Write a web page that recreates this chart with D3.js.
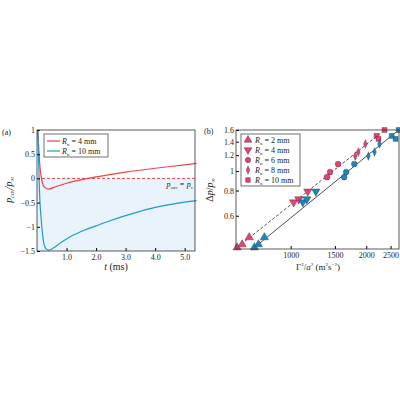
<!DOCTYPE html><html><head><script src="https://cdn.jsdelivr.net/npm/d3@7"></script>
<style>body{margin:0;background:#fff}text{font-family:"Liberation Serif",serif;fill:#222}</style></head><body>
<svg id="s" width="400" height="400"></svg>
<script>
const tRed=[0.03,0.08,0.15,0.25,0.4,0.6,1,1.5,2,3,4,5,5.4];
const pRed=[1,0.4,0.0,-0.18,-0.22,-0.18,-0.1,-0.03,0.03,0.13,0.21,0.28,0.31];
const tBlue=[0.03,0.08,0.15,0.22,0.3,0.4,0.55,0.8,1.2,1.6,2,2.5,3,3.5,4,4.5,5,5.4];
const pBlue=[1,-0.2,-0.9,-1.3,-1.45,-1.48,-1.44,-1.33,-1.18,-1.07,-0.98,-0.87,-0.77,-0.68,-0.6,-0.54,-0.49,-0.46];
const xTicksA=[1,2,3,4,5], yTicksA=[-1.5,-1,-0.5,0,0.5,1];
const pinkX=[612,641,684,1028,1077,1170,1395,1435,1545,1809,1859,1984,2197,2237,2365];
const blueX=[717,744,786,1118,1160,1260,1633,1664,1792,2040,2157,2258,2526,2617,2693];
const yVals=[0.417,0.432,0.468,0.70,0.725,0.792,0.933,0.989,1.084,1.188,1.244,1.364,1.496,1.445,1.6];
const shapes=["tu","tu","tu","td","td","td","c","c","c","d","d","d","s","s","s"];
const legB=["2","4","6","8","10"], legShapes=["tu","td","c","d","s"];
const xTicksB=[1000,1500,2000,2500], yTicksB=[0.6,0.8,1,1.2,1.4,1.6];
const svg=d3.select("#s");
const RED="#ee4444",BLUE="#1f9ac9",PINK="#ea3f73",BL2="#1a86bf";
// panel a
const xa=d3.scaleLinear([0,5.35],[37,195]), ya=d3.scaleLinear([-1.5,1],[251,130]);
const ga=svg.append("g");
ga.append("rect").attr("x",37).attr("y",ya(0)).attr("width",158).attr("height",251-ya(0)).attr("fill","#e8f3fc");
ga.append("line").attr("x1",37).attr("x2",195).attr("y1",ya(0)).attr("y2",ya(0)).attr("stroke",RED).attr("stroke-dasharray","3,2");
const la=d3.line().x(d=>xa(d[0])).y(d=>ya(d[1])).curve(d3.curveMonotoneX);
ga.append("path").attr("d",la(tRed.map((t,i)=>[t,pRed[i]]))).attr("fill","none").attr("stroke",RED).attr("stroke-width",1.2);
ga.append("path").attr("d",la(tBlue.map((t,i)=>[t,pBlue[i]]))).attr("fill","none").attr("stroke",BLUE).attr("stroke-width",1.2);
ga.append("g").attr("transform","translate(0,251)").call(d3.axisBottom(xa).tickValues(xTicksA).tickSize(-3).tickPadding(3)).call(g=>{g.select(".domain").remove();g.selectAll("text").attr("font-size",8)});
ga.append("g").attr("transform","translate(37,0)").call(d3.axisLeft(ya).tickValues(yTicksA).tickSize(-3).tickPadding(2).tickFormat(d3.format("~g"))).call(g=>{g.select(".domain").remove();g.selectAll("text").attr("font-size",8)});
ga.append("rect").attr("x",37).attr("y",130).attr("width",158).attr("height",121).attr("fill","none").attr("stroke","#333").attr("stroke-width",0.8);
ga.append("text").attr("x",2).attr("y",135).attr("font-size",8).text("(a)");
ga.append("text").attr("x",116).attr("y",270).attr("font-size",10).attr("text-anchor","middle").html('<tspan font-style="italic">t</tspan> (ms)');
ga.append("text").attr("transform","translate(12,190) rotate(-90)").attr("font-size",10).attr("text-anchor","middle").attr("font-style","italic").html('p<tspan font-size="6" dy="2">cav</tspan><tspan dy="-2">/p</tspan><tspan font-size="6" dy="2">∞</tspan>');
ga.append("text").attr("x",193).attr("y",187).attr("font-size",8).attr("text-anchor","end").attr("font-style","italic").html('p<tspan font-size="5" dy="2">cav</tspan><tspan dy="-2"> = p</tspan><tspan font-size="5" dy="2">v</tspan>');
const lg=ga.append("g");
lg.append("rect").attr("x",44).attr("y",134).attr("width",64).attr("height",23).attr("fill","#fff").attr("stroke","#333").attr("stroke-width",0.7);
[["4",RED],["10",BLUE]].forEach((d,i)=>{const y=141+i*10;
lg.append("line").attr("x1",47).attr("x2",60).attr("y1",y).attr("y2",y).attr("stroke",d[1]).attr("stroke-width",1.2);
lg.append("text").attr("x",62).attr("y",y+3).attr("font-size",8).html('<tspan font-style="italic">R</tspan><tspan font-size="5" dy="2">n</tspan><tspan dy="-2"> = '+d[0]+' mm</tspan>');});
// panel b
const xb=d3.scaleLog([606,2700],[236,399]), yb=d3.scaleLog([0.41,1.6],[249,130]);
const gb=svg.append("g");
const lb=d3.line().x(d=>xb(d[0])).y(d=>yb(d[1]));
gb.append("path").attr("d",lb([[pinkX[0],yVals[0]],[pinkX[14],yVals[14]]])).attr("stroke","#222").attr("stroke-dasharray","3,2").attr("fill","none").attr("stroke-width",0.8);
gb.append("path").attr("d",lb([[blueX[0],yVals[0]],[blueX[14],yVals[14]]])).attr("stroke","#222").attr("fill","none").attr("stroke-width",0.8);
function sym(g,s,x,y,c,r){
 const syms={tu:d3.symbolTriangle,td:d3.symbolTriangle,c:d3.symbolCircle,d:d3.symbolDiamond,s:d3.symbolSquare};
 const size={tu:30,td:30,c:26,d:22,s:24}[s]*r;
 g.append("path").attr("d",d3.symbol(syms[s],size)()).attr("transform",`translate(${x},${y})`+(s=="td"?" rotate(180)":"")+(s=="d"?" scale(0.75,1)":""))
 .attr("fill",c).attr("stroke","#333").attr("stroke-width",0.4);}
pinkX.forEach((x,i)=>sym(gb,shapes[i],xb(x),yb(yVals[i]),PINK,1));
blueX.forEach((x,i)=>sym(gb,shapes[i],xb(x),yb(yVals[i]),BL2,1));
gb.append("g").attr("transform","translate(0,249)").call(d3.axisBottom(xb).tickValues(xTicksB).tickSize(-3).tickPadding(3).tickFormat(d3.format("d"))).call(g=>{g.select(".domain").remove();g.selectAll("text").attr("font-size",8)});
gb.append("g").attr("transform","translate(236,0)").call(d3.axisLeft(yb).tickValues(yTicksB).tickSize(-3).tickPadding(2).tickFormat(d3.format("~g"))).call(g=>{g.select(".domain").remove();g.selectAll("text").attr("font-size",8)});
gb.append("rect").attr("x",236).attr("y",130).attr("width",163).attr("height",119).attr("fill","none").attr("stroke","#333").attr("stroke-width",0.8);
gb.append("text").attr("x",204).attr("y",134).attr("font-size",8).text("(b)");
gb.append("text").attr("x",318).attr("y",270).attr("font-size",9).attr("text-anchor","middle").html('Γ<tspan font-size="5" dy="-4">2</tspan><tspan dy="4">/</tspan><tspan font-style="italic">a</tspan><tspan font-size="5" dy="-4">2</tspan><tspan dy="4"> (m</tspan><tspan font-size="5" dy="-4">2</tspan><tspan dy="4">s</tspan><tspan font-size="5" dy="-4">−2</tspan><tspan dy="4">)</tspan>');
gb.append("text").attr("transform","translate(213,190) rotate(-90)").attr("font-size",10).attr("text-anchor","middle").html('Δ<tspan font-style="italic">p</tspan>/<tspan font-style="italic">p</tspan><tspan font-size="6" dy="2">∞</tspan>');
const lg2=gb.append("g");
lg2.append("rect").attr("x",241).attr("y",134).attr("width",59).attr("height",52).attr("fill","#fff").attr("stroke","#333").attr("stroke-width",0.7);
legB.forEach((r,i)=>{const y=140+i*10;sym(lg2,legShapes[i],248,y,PINK,0.9);
lg2.append("text").attr("x",255).attr("y",y+3).attr("font-size",8).html('<tspan font-style="italic">R</tspan><tspan font-size="5" dy="2">n</tspan><tspan dy="-2"> = '+r+' mm</tspan>');});
</script></body></html>
